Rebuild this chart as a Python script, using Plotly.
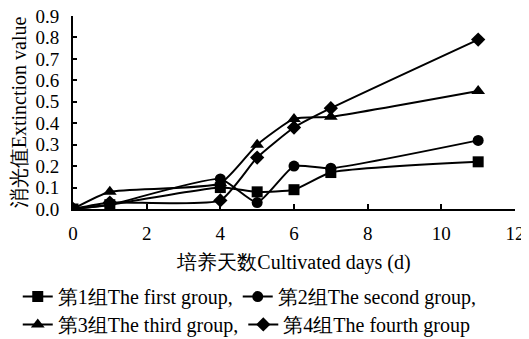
import plotly.graph_objects as go

days = [0, 1, 4, 5, 6, 7, 11]
group1 = [0.0, 0.02, 0.10, 0.08, 0.09, 0.17, 0.22]
group2 = [0.0, 0.02, 0.14, 0.03, 0.20, 0.19, 0.32]
group3 = [0.0, 0.08, 0.12, 0.30, 0.42, 0.43, 0.55]
group4 = [0.0, 0.03, 0.04, 0.24, 0.38, 0.47, 0.79]
names = ["第1组The first group,", "第2组The second group,",
         "第3组The third group,", "第4组The fourth group"]
symbols = ["square", "circle", "triangle-up", "diamond"]
legend_rows = ["legend", "legend", "legend2", "legend2"]
xticks = [0, 2, 4, 6, 8, 10, 12]
yticks = [0.0, 0.1, 0.2, 0.3, 0.4, 0.5, 0.6, 0.7, 0.8, 0.9]

FONT = "Liberation Serif, Times New Roman, serif"

fig = go.Figure()
for ys, nm, sym, lg in zip([group1, group2, group3, group4], names, symbols, legend_rows):
    fig.add_trace(go.Scatter(
        x=days, y=ys, name=nm, mode="lines+markers", legend=lg,
        line=dict(color="black", width=2, shape="spline", smoothing=0.5),
        marker=dict(symbol=sym, color="black", size=11 if sym != "triangle-up" else 12),
    ))

leg_common = dict(orientation="h", xanchor="left", xref="paper", yanchor="middle",
                  font=dict(family=FONT, size=20), itemwidth=30,
                  tracegroupgap=0, traceorder="normal", bgcolor="rgba(0,0,0,0)")
# page body has an 8px margin, so the figure is sized to fill the rest of the window
fig.update_layout(
    width=521, height=331,
    margin=dict(l=65, r=14, t=8, b=130, autoexpand=False),
    paper_bgcolor="white", plot_bgcolor="white",
    font=dict(family=FONT, size=19, color="black"),
    showlegend=True,
    legend=dict(x=-0.125, y=-0.454, **leg_common),
    legend2=dict(x=-0.125, y=-0.598, **leg_common),
)
fig.update_xaxes(
    range=[0, 12], tickvals=xticks, ticktext=[str(v) for v in xticks],
    tickfont=dict(family=FONT, size=19), ticklabelstandoff=6, automargin=False,
    ticklabeloverflow="allow",
    showline=True, linecolor="black", linewidth=2, ticks="inside",
    ticklen=5, tickwidth=2, tickcolor="black", showgrid=False, zeroline=False,
    title=dict(text="培养天数Cultivated days (d)", standoff=12,
               font=dict(family=FONT, size=20)),
)
fig.update_yaxes(
    range=[0, 0.9], tickvals=yticks, ticktext=[f"{v:.1f}" for v in yticks],
    tickfont=dict(family=FONT, size=19), ticklabelstandoff=8, automargin=False,
    ticklabeloverflow="allow",
    showline=True, linecolor="black", linewidth=2, ticks="inside",
    ticklen=4, tickwidth=2, tickcolor="black", showgrid=False, zeroline=False,
    title=dict(text="消光值Extinction value", standoff=10, font=dict(family=FONT, size=20)),
)
fig.write_html("out.html")
